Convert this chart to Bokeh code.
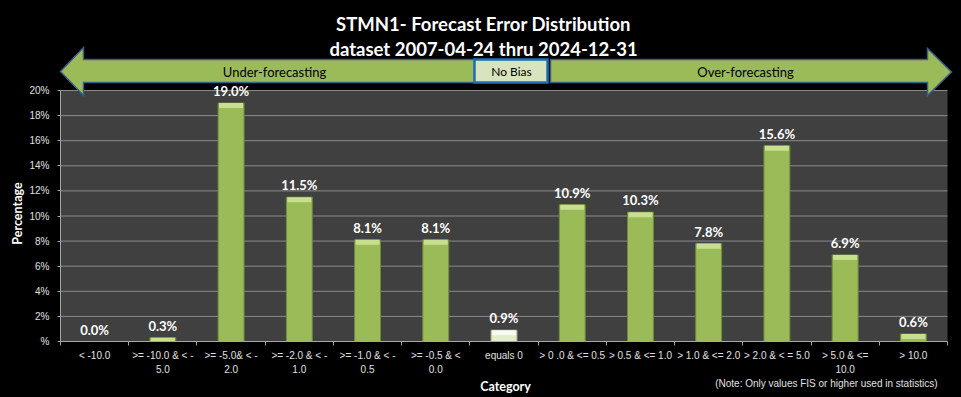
import math
from bokeh.plotting import figure
from bokeh.models import Range1d, FixedTicker, LabelSet, ColumnDataSource
from bokeh.core.properties import value
from bokeh.embed import file_html
from bokeh.resources import INLINE

# ---------------- data ----------------
categories = [
    "< -10.0", ">= -10.0 & < -\n5.0", ">= -5.0& < -\n2.0", ">= -2.0 & < -\n1.0",
    ">= -1.0 & < -\n0.5", ">= -0.5 & <\n0.0", "equals 0", "> 0 .0 & <= 0.5",
    "> 0.5 & <= 1.0", "> 1.0 & <= 2.0", "> 2.0 & < = 5.0", "> 5.0 & <=\n10.0", "> 10.0",
]
percentages = [0.0, 0.3, 19.0, 11.5, 8.1, 8.1, 0.9, 10.9, 10.3, 7.8, 15.6, 6.9, 0.6]
y_ticks = [0, 2, 4, 6, 8, 10, 12, 14, 16, 18, 20]
y_tick_labels = ["%", "2%", "4%", "6%", "8%", "10%", "12%", "14%", "16%", "18%", "20%"]
title_lines = ["STMN1- Forecast Error Distribution", "dataset 2007-04-24 thru 2024-12-31"]
banner_labels = ["Under-forecasting", "No Bias", "Over-forecasting"]
x_title = "Category"
y_title = "Percentage"
note = "(Note: Only values FIS or higher used in statistics)"

# ---------------- layout (canvas pixel -> data) ----------------
W, H = 961, 397
FL, FR, FT, FB = 60, 947, 90, 341      # plot area in canvas pixels
N = len(categories)
KX = (FR - FL) / N
KY = (FB - FT) / 20.0


def X(px):
    return -0.5 + (px - FL) / KX


def Y(py):
    return (FB - py) / KY


SANS = "Lato, 'Open Sans', sans-serif"
TICKF = "'Liberation Sans', Arial, sans-serif"

GREEN, GREEN_HL, GREEN_LN = "#9BBB59", "#C9DF90", "#6E8B3D"
PALE, PALE_HL, PALE_LN = "#E2EBCC", "#F8FBEF", "#A3B585"
fills = [PALE if c == "equals 0" else GREEN for c in categories]
hls = [PALE_HL if c == "equals 0" else GREEN_HL for c in categories]
lns = [PALE_LN if c == "equals 0" else GREEN_LN for c in categories]

xs = list(range(N))
source = ColumnDataSource(dict(
    x=xs,
    top=percentages,
    hl_bottom=[max(v - 0.4, 0) for v in percentages],
    fill=fills, hl=hls, ln=lns,
    label=[f"{v:.1f}%" for v in percentages],
))

p = figure(
    width=W, height=H, output_backend="svg", toolbar_location=None, title=None,
    x_range=Range1d(X(0), X(W)), y_range=Range1d(Y(H), Y(0)),
    min_border=0, min_border_left=0, min_border_right=0, min_border_top=0, min_border_bottom=0,
    background_fill_color="black", border_fill_color="black", outline_line_color=None,
)

# plot area + gridlines
p.quad(left=-0.5, right=N - 0.5, bottom=y_ticks[0], top=y_ticks[-1],
       fill_color="#404040", line_color=None)
p.segment(x0=-0.5, x1=N - 0.5, y0=y_ticks[1:], y1=y_ticks[1:], line_color="#8a8a8a",
          line_width=1)
p.xgrid.visible = False
p.ygrid.visible = False

# bars
p.vbar(x="x", top="top", bottom=0, width=0.38, fill_color="fill", line_color="ln",
       line_width=1, source=source)
p.vbar(x="x", top="top", bottom="hl_bottom", width=0.35, fill_color="hl", line_color=None,
       source=source)
p.add_layout(LabelSet(x="x", y="top", text="label", source=source, y_offset=12,
                      text_align="center", text_baseline="middle", text_color="white",
                      text_font=value(SANS), text_font_style="bold", text_font_size="13px"))

# axes (placed at the plot-area edges)
p.xaxis.fixed_location = 0
p.xaxis.bounds = (-0.5, N - 0.5)
p.xaxis.ticker = FixedTicker(ticks=xs, minor_ticks=[i - 0.5 for i in range(N + 1)])
p.xaxis.major_label_overrides = {i: c for i, c in enumerate(categories)}
p.xaxis.major_tick_out = 0
p.xaxis.major_tick_in = 0
p.xaxis.minor_tick_out = 4
p.xaxis.minor_tick_in = 0
p.xaxis.minor_tick_line_color = "#a6a6a6"
p.xaxis.axis_line_color = "#a6a6a6"
p.xaxis.major_label_text_font = TICKF
p.xaxis.major_label_text_font_size = "10px"
p.xaxis.major_label_text_color = "#e0e0e0"
p.xaxis.major_label_text_line_height = 1.35
p.xaxis.major_label_standoff = 4

p.yaxis.fixed_location = -0.5
p.yaxis.bounds = (y_ticks[0], y_ticks[-1])
p.yaxis.ticker = FixedTicker(ticks=y_ticks, minor_ticks=[])
p.yaxis.major_label_overrides = dict(zip(y_ticks, y_tick_labels))
p.yaxis.major_tick_out = 3
p.yaxis.major_tick_in = 0
p.yaxis.major_tick_line_color = "#a6a6a6"
p.yaxis.axis_line_color = "#a6a6a6"
p.yaxis.minor_tick_line_color = None
p.yaxis.major_label_text_font = TICKF
p.yaxis.major_label_text_font_size = "10px"
p.yaxis.major_label_text_color = "#e0e0e0"
p.yaxis.major_label_standoff = 8

# banner arrows
left_px = [(60, 71), (83, 47), (83, 59), (474, 59), (474, 82), (83, 82), (83, 95)]
right_px = [(550, 59), (927, 59), (927, 48), (951, 71.5), (927, 95), (927, 82), (550, 82)]
box_px = [(474, 59), (547, 59), (547, 82), (474, 82)]
for pts, fc, lc, lw in [(left_px, GREEN, "#3B5E8C", 1.5), (right_px, GREEN, "#3B5E8C", 1.5),
                        (box_px, "#D7E4BD", "#1F6FB8", 2.5)]:
    p.patch(x=[X(a) for a, _ in pts], y=[Y(b) for _, b in pts], fill_color=fc,
            line_color=lc, line_width=lw, line_join="miter")

p.text(x=[X(274), X(511), X(745)], y=[Y(71)] * 3, text=banner_labels, text_align="center",
       text_baseline="middle", text_color="black", text_font=value(SANS),
       text_font_size=["13px", "12px", "13px"])

# titles
p.text(x=[X(483)] * 2, y=[Y(23), Y(48)], text=title_lines, text_align="center",
       text_baseline="middle", text_color="white", text_font=value(SANS),
       text_font_style="bold", text_font_size="18.5px")

p.text(x=[X(17)], y=[Y(213)], text=[y_title], angle=math.pi / 2, text_align="center",
       text_baseline="middle", text_color="white", text_font=value(SANS),
       text_font_style="bold", text_font_size="12.5px")
p.text(x=[X(505)], y=[Y(386)], text=[x_title], text_align="center", text_baseline="middle",
       text_color="white", text_font=value(SANS), text_font_style="bold",
       text_font_size="12.5px")
p.text(x=[X(937)], y=[Y(383)], text=[note], text_align="right", text_baseline="middle",
       text_color="#e0e0e0", text_font=value(TICKF), text_font_size="10px")

TEMPLATE = ("{% block postamble %}<style>html,body{background:#000;margin:0;padding:0;"
            "overflow:hidden;}</style>{% endblock %}")
open("out.html", "w").write(file_html(p, INLINE, template=TEMPLATE))
